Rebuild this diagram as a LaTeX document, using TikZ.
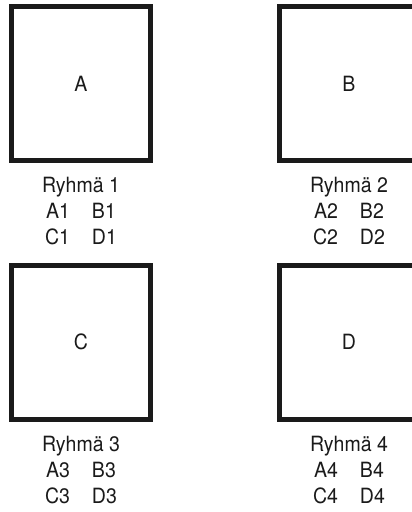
\documentclass[tikz,border=0pt]{standalone}
\usepackage{fontspec}
\setmainfont[FakeStretch=0.93]{TeX Gyre Heros}
\usepackage{tikz}
\usetikzlibrary{positioning}
\definecolor{ink}{RGB}{26,26,26}

\begin{document}
\begin{tikzpicture}[x=1pt, y=-1pt, font=\fontsize{21}{26}\selectfont, text=ink]
  \useasboundingbox (0,0) rectangle (412,512);
  \tikzset{
    roombox/.style={draw=ink, line width=5pt, minimum width=139pt, minimum height=154pt, inner sep=0pt},
    grouptext/.style={align=center, inner sep=0pt, font=\fontsize{21}{26}\selectfont}
  }
  \node[roombox] (boxA) at (81,83.5) {A};
  \node[roombox] (boxB) at (349,83.5) {B};
  \node[roombox] (boxC) at (81,342) {C};
  \node[roombox] (boxD) at (349,342) {D};

  \node[grouptext, below=14pt of boxA] (groupA) {Ryhmä 1\\A1\hspace{22pt}B1\\C1\hspace{22pt}D1};
  \node[grouptext, below=14pt of boxB] (groupB) {Ryhmä 2\\A2\hspace{22pt}B2\\C2\hspace{22pt}D2};
  \node[grouptext, below=14pt of boxC] (groupC) {Ryhmä 3\\A3\hspace{22pt}B3\\C3\hspace{22pt}D3};
  \node[grouptext, below=14pt of boxD] (groupD) {Ryhmä 4\\A4\hspace{22pt}B4\\C4\hspace{22pt}D4};
\end{tikzpicture}
\end{document}
